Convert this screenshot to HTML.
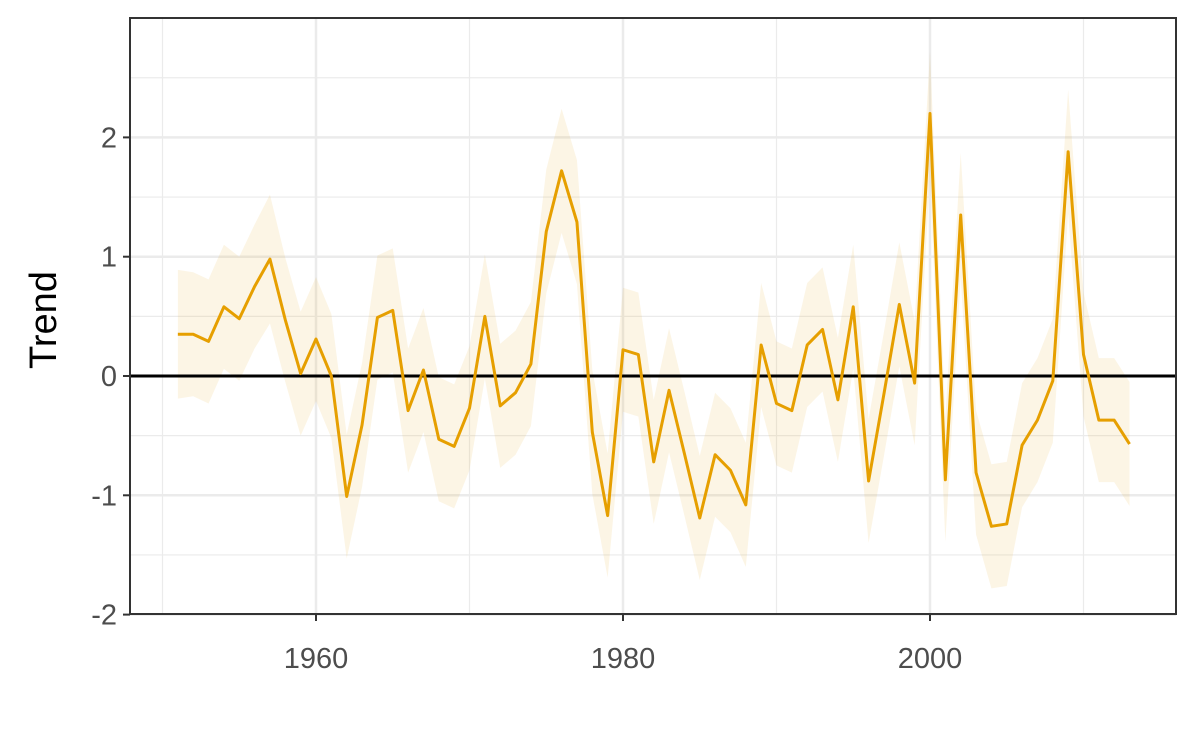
<!DOCTYPE html>
<html><head><meta charset="utf-8"><style>
body{margin:0;background:#fff;}
svg{display:block;font-family:"Liberation Sans",Arial,sans-serif;}
</style></head><body>
<svg id="chart" width="1200" height="750"></svg>
<script>
const years=[];for(let y=1951;y<=2013;y++)years.push(y);
const trend=[0.35,0.35,0.29,0.58,0.48,0.75,0.98,0.47,0.02,0.31,0.0,-1.01,-0.41,0.49,0.55,-0.29,0.05,-0.53,-0.59,-0.27,0.50,-0.25,-0.14,0.10,1.21,1.72,1.29,-0.47,-1.17,0.22,0.18,-0.72,-0.12,-0.65,-1.19,-0.66,-0.79,-1.08,0.26,-0.23,-0.29,0.26,0.39,-0.20,0.58,-0.88,-0.15,0.60,-0.06,2.20,-0.87,1.35,-0.81,-1.26,-1.24,-0.58,-0.37,-0.04,1.88,0.18,-0.37,-0.37,-0.57];
const se=[0.54,0.52,0.52,0.52,0.52,0.52,0.54,0.52,0.52,0.52,0.52,0.52,0.52,0.52,0.52,0.52,0.52,0.52,0.52,0.52,0.52,0.52,0.52,0.52,0.52,0.52,0.52,0.52,0.52,0.52,0.52,0.52,0.52,0.52,0.52,0.52,0.52,0.52,0.52,0.52,0.52,0.52,0.52,0.52,0.52,0.52,0.52,0.52,0.52,0.52,0.52,0.52,0.52,0.52,0.52,0.52,0.52,0.52,0.52,0.52,0.52,0.52,0.52];
const xTicks=[1960,1980,2000];
const xMinor=[1950,1970,1990,2010];
const yTicks=[-2,-1,0,1,2];
const yMinor=[-1.5,-0.5,0.5,1.5,2.5];
const L=130,R=1176,T=18,B=614;
const xs=v=>316+(v-1960)*15.35;
const ys=v=>376-v*119.3;
const svg=document.getElementById('chart');
const NS='http://www.w3.org/2000/svg';
function mk(t,a,p){const e=document.createElementNS(NS,t);for(const k in a)e.setAttribute(k,a[k]);(p||svg).appendChild(e);return e;}
const grid=mk('g',{});


xMinor.forEach(v=>mk('line',{x1:xs(v),x2:xs(v),y1:T,y2:B,stroke:'#ebebeb','stroke-width':1.2},grid));
yMinor.forEach(v=>mk('line',{x1:L,x2:R,y1:ys(v),y2:ys(v),stroke:'#ebebeb','stroke-width':1.2},grid));
xTicks.forEach(v=>mk('line',{x1:xs(v),x2:xs(v),y1:T,y2:B,stroke:'#ebebeb','stroke-width':2.5},grid));
yTicks.forEach(v=>mk('line',{x1:L,x2:R,y1:ys(v),y2:ys(v),stroke:'#ebebeb','stroke-width':2.5},grid));
let up=years.map((y,i)=>xs(y)+','+ys(trend[i]+se[i]));
let lo=years.map((y,i)=>xs(y)+','+ys(trend[i]-se[i])).reverse();
const rib=mk('polygon',{points:up.concat(lo).join(' '),fill:'#E69F00','fill-opacity':0.1});


const zl=mk('line',{x1:L,x2:R,y1:ys(0),y2:ys(0),stroke:'#000','stroke-width':3});


const ln=mk('polyline',{points:years.map((y,i)=>xs(y)+','+ys(trend[i])).join(' '),fill:'none',stroke:'#E69F00','stroke-width':3,'stroke-linejoin':'round'});


const fr=mk('rect',{x:L,y:T,width:R-L,height:B-T,fill:'none',stroke:'#333','stroke-width':2});


xTicks.forEach(v=>{mk('line',{x1:xs(v),x2:xs(v),y1:B,y2:B+7,stroke:'#333','stroke-width':2});
const t=mk('text',{x:xs(v),y:668,'text-anchor':'middle','font-size':29,fill:'#4d4d4d'});t.textContent=v;

});
yTicks.forEach(v=>{mk('line',{x1:L-7,x2:L,y1:ys(v),y2:ys(v),stroke:'#333','stroke-width':2});
const t=mk('text',{x:L-13,y:ys(v)+10,'text-anchor':'end','font-size':29,fill:'#4d4d4d'});t.textContent=v;

});
const yt=mk('text',{x:56,y:320,'text-anchor':'middle','font-size':38,fill:'#000',transform:'rotate(-90 56 320)'});yt.textContent='Trend';


</script>
</body></html>
